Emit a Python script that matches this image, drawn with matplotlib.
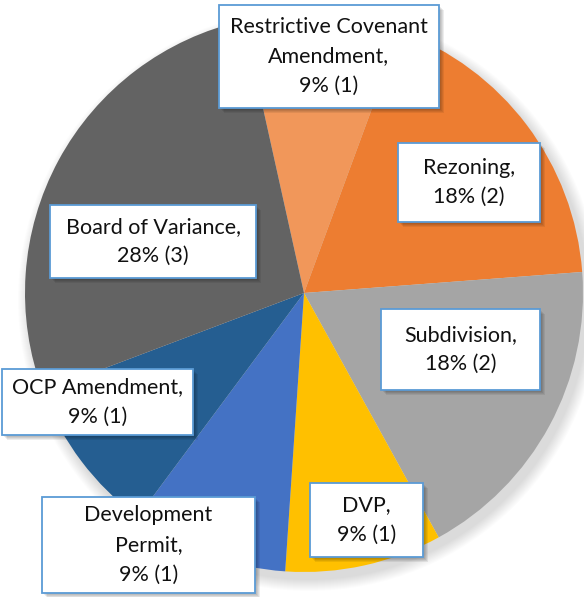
import numpy as np
import matplotlib.pyplot as plt
from matplotlib.patches import Rectangle, Circle

categories = ['Restrictive Covenant Amendment', 'Rezoning', 'Subdivision', 'DVP',
              'Development Permit', 'OCP Amendment', 'Board of Variance']
counts = [1, 2, 2, 1, 1, 1, 3]
pct_labels = ['9%', '18%', '18%', '9%', '9%', '9%', '28%']
label_lines = ['Restrictive Covenant\nAmendment,', 'Rezoning,', 'Subdivision,', 'DVP,',
               'Development\nPermit,', 'OCP Amendment,', 'Board of Variance,']
colors = ['#F1975A', '#ED7D31', '#A5A5A5', '#FFC000', '#4472C4', '#255E91', '#636363']

# label boxes in pixel coords (left, top, right, bottom)
boxes = [(219, 5, 439, 108), (398, 143, 540, 222), (381, 309, 540, 390),
         (310, 483, 423, 557), (42, 497, 255, 593), (2, 369, 193, 435),
         (50, 205, 256, 278)]

W, H = 584, 597
plt.rcParams['font.family'] = ['Lato', 'DejaVu Sans']
fig = plt.figure(figsize=(W / 100, H / 100), dpi=100)
ax = fig.add_axes([0, 0, 1, 1])

cx, cy, r = 304, H - 293, 279

# soft shadow under the pie
for k in range(12):
    ax.add_patch(Circle((cx + 5, cy - 7), r + 12 - k, color='black', alpha=0.012, lw=0, zorder=1))

ax.pie(counts, colors=colors, startangle=102.5, counterclock=False, center=(cx, cy),
       radius=r, wedgeprops=dict(linewidth=0), frame=True)
ax.set_xlim(0, W)
ax.set_ylim(0, H)
ax.set_aspect('equal')
ax.axis('off')

for (x0, y0, x1, y1), name, pct, n in zip(boxes, label_lines, pct_labels, counts):
    for k in range(4):
        ax.add_patch(Rectangle((x0 + 2 + k, H - y1 - 2 - k), x1 - x0, y1 - y0,
                               color='black', alpha=0.07, lw=0, zorder=4))
    ax.add_patch(Rectangle((x0, H - y1), x1 - x0, y1 - y0, facecolor='white',
                           edgecolor='#5B9BD5', lw=1.3, zorder=5))
    ax.text((x0 + x1) / 2, H - (y0 + y1) / 2, f'{name}\n{pct} ({n})', ha='center',
            va='center', fontsize=15.5, linespacing=1.6, color='#111111', zorder=6)

fig.savefig('out.png', dpi=100)
